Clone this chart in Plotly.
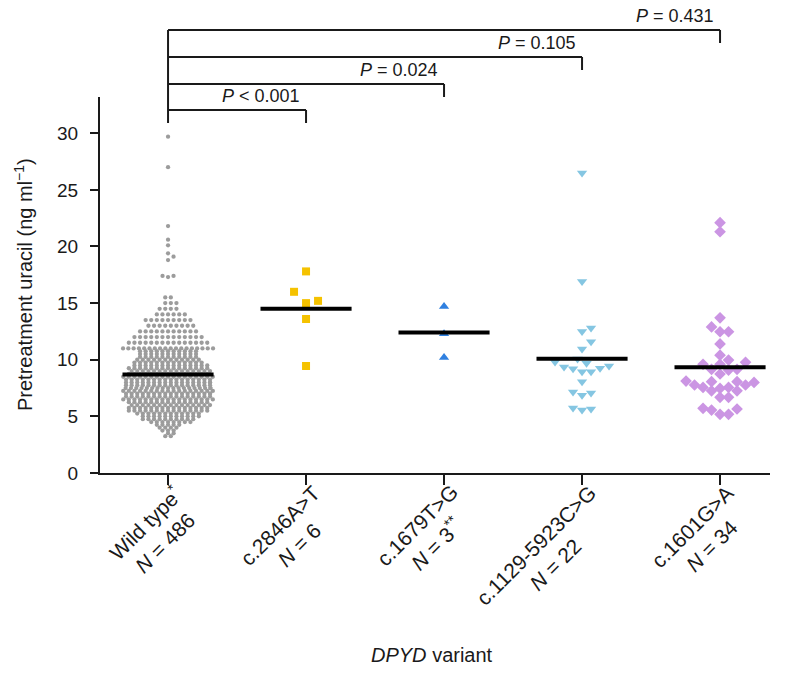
import plotly.graph_objects as go
import numpy as np

# ---------------- data ----------------
categories = ["Wild type<sup>*</sup>", "c.2846A>T", "c.1679T>G", "c.1129-5923C>G", "c.1601G>A"]
n_labels = ["<i>N</i> = 486", "<i>N</i> = 6", "<i>N</i> = 3<sup>**</sup>", "<i>N</i> = 22", "<i>N</i> = 34"]

# Wild type (N = 486): values read as rows of the swarm (value, number of dots)
wt_row_values = [3.25, 3.5, 3.75, 4.0, 4.25, 4.5, 4.75, 5.0, 5.25, 5.5, 5.75, 6.0, 6.25,
                 6.5, 6.75, 7.0, 7.25, 7.5, 7.75, 8.0, 8.25, 8.5, 8.75, 9.0, 9.25, 9.5,
                 9.75, 10.0, 10.25, 10.5, 10.75, 11.0, 11.5, 12.0, 12.5, 13.0, 13.5,
                 14.0, 14.5, 15.0, 15.5]
wt_row_counts = [2, 2, 3, 4, 5, 8, 10, 11, 12, 15, 15, 15, 15,
                 17, 16, 17, 17, 18, 16, 17, 16, 17, 15, 15, 15, 14,
                 13, 12, 11, 11, 11, 18, 15, 13, 11, 9, 9,
                 6, 4, 3, 2]
wt_outliers = [17.3, 17.4, 17.4, 18.8, 19.1, 19.4, 20.1, 20.6, 21.8, 27.0, 29.7]

c2846 = [17.8, 16.0, 15.2, 15.0, 13.6, 9.45]
c1679 = [14.7, 12.3, 10.2]
c1129 = [26.5, 16.9, 12.8, 12.5, 11.6, 10.94, 10.06, 9.8, 9.44, 9.26, 8.94, 9.2, 8.94,
         9.35, 9.7, 8.06, 7.06, 6.86, 7.15, 5.74, 5.56, 5.65]
c1601 = [22.1, 21.3, 13.7, 12.9, 12.47, 12.47, 11.4, 10.4, 9.97, 9.6, 9.6, 9.77, 9.15,
         9.09, 9.15, 8.74, 8.06, 8.0, 7.77, 7.77, 8.06, 8.12, 7.56, 7.26, 7.26, 7.47,
         7.56, 6.68, 6.68, 5.71, 5.56, 5.18, 5.18, 5.65]

p_labels = ["<i>P</i> < 0.001", "<i>P</i> = 0.024", "<i>P</i> = 0.105", "<i>P</i> = 0.431"]

# ---------------- layout geometry (page pixels) ----------------
W, H = 789, 676
P_LEFT, P_RIGHT, P_TOP, P_BOT = 100, 770, 97, 473   # plot area on the page
ML, MT = P_LEFT, P_TOP
MR = W - P_RIGHT
MB = H - P_BOT
PW, PH = P_RIGHT - P_LEFT, P_BOT - P_TOP
XR = [-0.493, 4.362]
YR = [0, 33.2]
PX_X = PW / (XR[1] - XR[0])
PX_Y = PH / (YR[1] - YR[0])
FONT = "Liberation Sans, Arial, sans-serif"
INK = "#1a1a1a"


def py(pix):
    return (P_BOT - pix) / PH


def px(pix):
    return (pix - P_LEFT) / PW


def swarm(values, diam, step):
    """Simple beeswarm: horizontal offsets (in x units) avoiding overlap in pixel space."""
    order = np.argsort(values)
    placed = []
    offs = [0.0] * len(values)
    for idx in order:
        y = values[idx] * PX_Y
        cands = [0.0]
        for j in range(1, 80):
            cands += [j * step, -j * step]
        for c in cands:
            if all((c - a) ** 2 + (y - b) ** 2 >= diam ** 2 - 1e-6 for a, b in placed):
                break
        placed.append((c, y))
        offs[idx] = c / PX_X
    return offs


fig = go.Figure()

# Wild type rows
wt_x, wt_y = [], []
for r, (v, n) in enumerate(zip(wt_row_values, wt_row_counts)):
    s = 5.6 if n <= 1 else min(5.6, 90.0 / (n - 1))
    shift = (s / 2) if (r % 2 and n % 2 == (r // 2) % 2) else 0.0
    for i in range(n):
        base = (i - (n - 1) / 2) * s
        dx = base + shift if abs(base + shift) <= 45 else base - shift
        wt_x.append(0 + dx / PX_X)
        wt_y.append(v)
out_off = swarm(wt_outliers, 5.5, 5.5)
wt_x += [0 + o for o in out_off]
wt_y += wt_outliers
wt_all = wt_y

fig.add_trace(go.Scatter(x=wt_x, y=wt_y, mode="markers",
                         marker=dict(symbol="circle", size=4.3, color="#9c9c9c"),
                         hoverinfo="y", showlegend=False))

groups = [
    (1, c2846, "square", 8, "#F5C200", 12, 12),
    (2, c1679, "triangle-up", 9, "#2F80E0", 10, 10),
    (3, c1129, "triangle-down", 9, "#85C6E2", 9, 4.5),
    (4, c1601, "diamond", 9, "#CB95E3", 8.5, 4.25),
]
for pos, vals, sym, size, col, dia, stp in groups:
    off = swarm(vals, dia, stp)
    fig.add_trace(go.Scatter(x=[pos + o for o in off], y=vals, mode="markers",
                             marker=dict(symbol=sym, size=size, color=col, line=dict(width=0)),
                             hoverinfo="y", showlegend=False))

# mean lines
all_groups = [wt_all, c2846, c1679, c1129, c1601]
for pos, vals in enumerate(all_groups):
    m = float(np.mean(vals))
    fig.add_trace(go.Scatter(x=[pos - 0.33, pos + 0.33], y=[m, m], mode="lines",
                             line=dict(color="black", width=4), hoverinfo="skip",
                             showlegend=False))

# significance brackets
levels = [110, 84, 57, 30]
leg = 13
shapes = []
for k, lev in enumerate(levels):
    x1 = k + 1
    shapes.append(dict(type="line", xref="x", yref="paper", x0=0, x1=x1, y0=py(lev), y1=py(lev),
                       line=dict(color=INK, width=2)))
    shapes.append(dict(type="line", xref="x", yref="paper", x0=x1, x1=x1, y0=py(lev), y1=py(lev + leg),
                       line=dict(color=INK, width=2)))
shapes.append(dict(type="line", xref="x", yref="paper", x0=0, x1=0, y0=py(levels[-1]), y1=py(levels[0] + leg),
                   line=dict(color=INK, width=2)))

annotations = []
for k, lev in enumerate(levels):
    annotations.append(dict(x=k + 1 - 4 / PX_X, y=py(lev - 2), xref="x", yref="paper",
                            text=p_labels[k], showarrow=False, xanchor="right", yanchor="bottom",
                            font=dict(family=FONT, size=18, color=INK)))

# category labels (rotated, two lines)
for i, (c, n) in enumerate(zip(categories, n_labels)):
    annotations.append(dict(x=i + 40 / PX_X, y=py(478), xref="x", yref="paper",
                            text=c + "<br>" + n, showarrow=False, textangle=-45,
                            xanchor="right", yanchor="top", align="center",
                            font=dict(family=FONT, size=21, color=INK)))

# axis titles
annotations.append(dict(x=px(23), y=0.5, xref="paper", yref="paper",
                        text="Pretreatment uracil (ng ml<sup>−1</sup>)", showarrow=False,
                        textangle=-90, xanchor="center", yanchor="middle",
                        font=dict(family=FONT, size=20, color=INK)))
annotations.append(dict(x=px(432), y=py(655), xref="paper", yref="paper",
                        text="<i>DPYD</i> variant", showarrow=False,
                        xanchor="center", yanchor="middle",
                        font=dict(family=FONT, size=20, color=INK)))

fig.update_layout(
    width=W, height=H,
    margin=dict(l=ML, r=MR, t=MT, b=MB, pad=0),
    plot_bgcolor="white", paper_bgcolor="white",
    shapes=shapes, annotations=annotations,
    font=dict(family=FONT, size=18, color=INK),
    xaxis=dict(range=XR, tickvals=[0, 1, 2, 3, 4], showticklabels=False,
               ticks="outside", ticklen=10, tickwidth=2, tickcolor=INK,
               showline=True, linewidth=2, linecolor=INK,
               showgrid=False, zeroline=False, fixedrange=True),
    yaxis=dict(range=YR, tickvals=[0, 5, 10, 15, 20, 25, 30],
               ticks="outside", ticklen=8, tickwidth=2, tickcolor=INK,
               showline=True, linewidth=2, linecolor=INK, ticklabelstandoff=8,
               tickfont=dict(family=FONT, size=19, color=INK),
               showgrid=False, zeroline=False, fixedrange=True),
)

fig.write_html("out.html", config={"displayModeBar": False, "staticPlot": True},
               post_script="document.body.style.margin='0';document.body.style.overflow='hidden';")
